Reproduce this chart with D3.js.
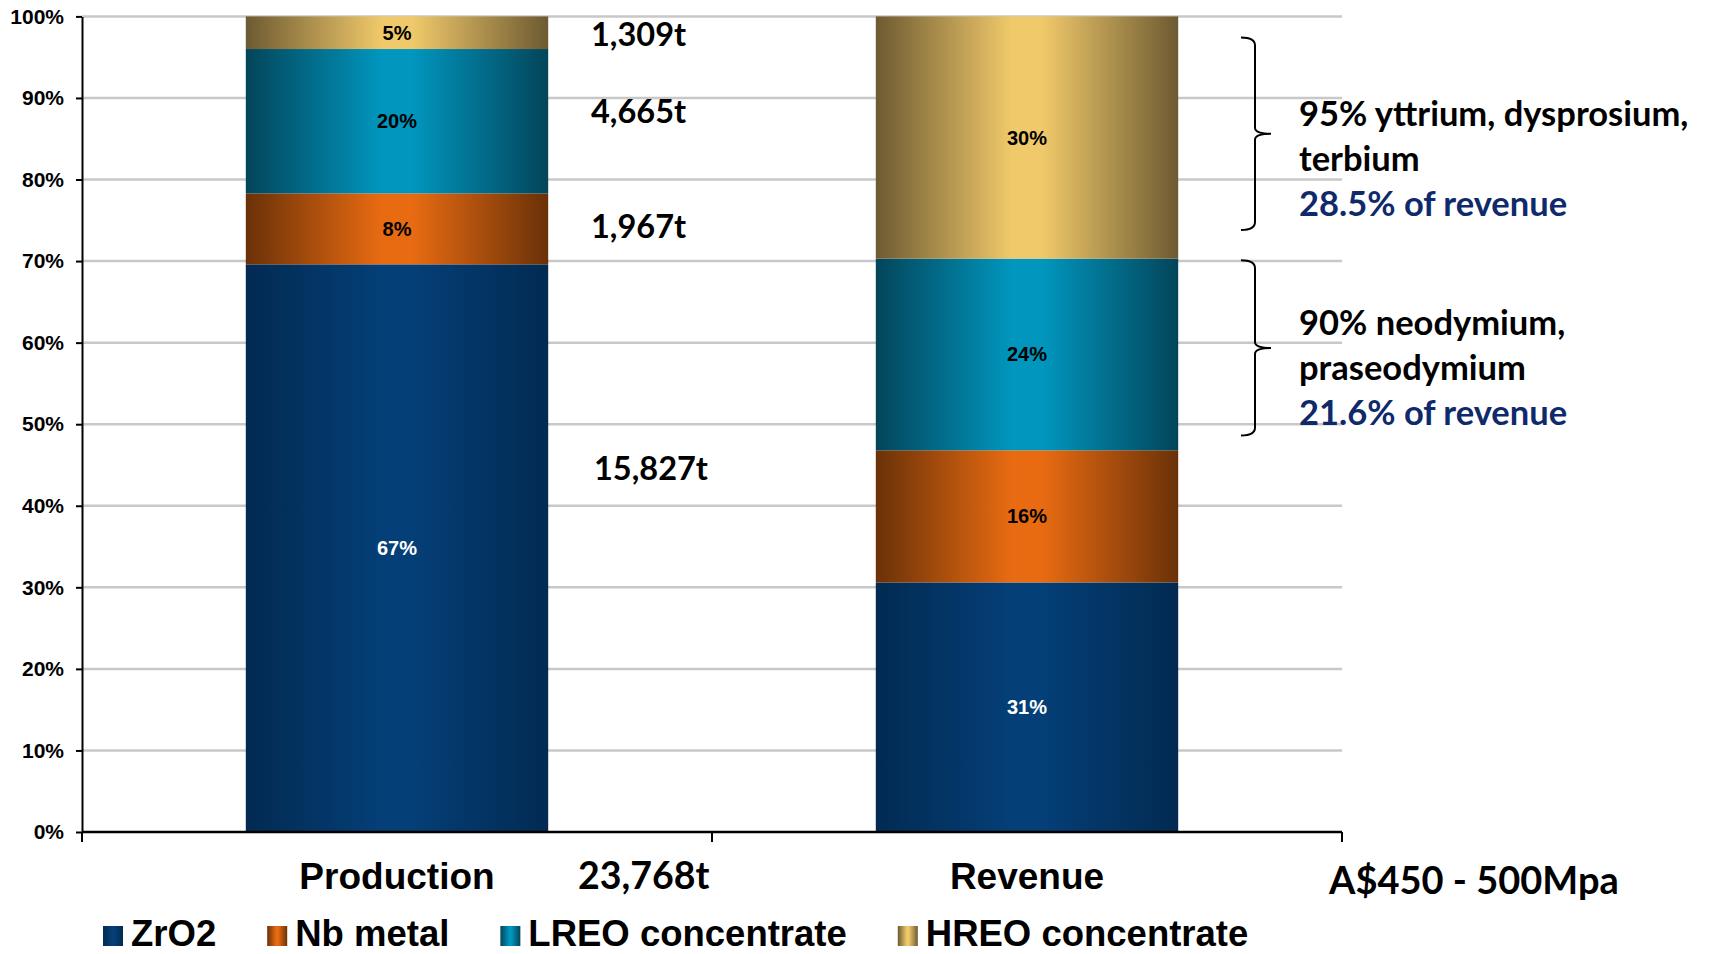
<!DOCTYPE html>
<html>
<head>
<meta charset="utf-8">
<script src="https://cdn.jsdelivr.net/npm/d3@7"></script>
<style>
  html, body { margin: 0; padding: 0; background: #fff; }
  svg { display: block; }
  .arial { font-family: "Liberation Sans", Arial, sans-serif; font-weight: bold; }
  .cal { font-family: Lato, "Open Sans", sans-serif; font-weight: bold; }
</style>
</head>
<body>
<svg id="chart" width="1717" height="954"></svg>
<script>
// chart data (bar heights) and its printed labels
const categories = ['Production', 'Revenue'];
const series = ['ZrO2', 'Nb metal', 'LREO concentrate', 'HREO concentrate'];
const productionShares = [69.6, 8.7, 17.7, 4.0];
const revenueShares = [30.6, 16.2, 23.5, 29.7];
const productionLabels = ['67%', '8%', '20%', '5%'];
const revenueLabels = ['31%', '16%', '24%', '30%'];
const tonnages = ['15,827t', '1,967t', '4,665t', '1,309t'];
const totalProduction = '23,768t';
const revenueRange = 'A$450 - 500Mpa';
const yTicks = [0, 10, 20, 30, 40, 50, 60, 70, 80, 90, 100];

// gradient colours per series: [edge, centre]
const shades = [['#022a52', '#043f77'], ['#6a3108', '#e86b12'], ['#03455a', '#0196be'], ['#6d5a32', '#f0c96a']];
const labelInk = ['#fff', '#000', '#000', '#000'];

const svg = d3.select('#chart');
const plot = {left: 82, right: 1342, top: 16.4, bottom: 832};

const x = d3.scaleBand().domain(categories).range([plot.left, plot.right])
  .paddingInner(0.52).paddingOuter(0.26);
const y = d3.scaleLinear().domain([0, 100]).range([plot.bottom, plot.top]);

const rows = categories.map((c, i) => {
  const vals = i === 0 ? productionShares : revenueShares;
  const labs = i === 0 ? productionLabels : revenueLabels;
  const r = {cat: c, labels: labs};
  series.forEach((s, j) => r[s] = vals[j]);
  return r;
});
const stacked = d3.stack().keys(series)(rows);

// horizontal "cylinder" gradients like the Excel fill
const defs = svg.append('defs');
series.forEach((s, i) => {
  const g = defs.append('linearGradient').attr('id', 'grad' + i)
    .attr('x1', 0).attr('x2', 1).attr('y1', 0).attr('y2', 0);
  g.append('stop').attr('offset', '0%').attr('stop-color', shades[i][0]);
  g.append('stop').attr('offset', '45%').attr('stop-color', shades[i][1]);
  g.append('stop').attr('offset', '55%').attr('stop-color', shades[i][1]);
  g.append('stop').attr('offset', '100%').attr('stop-color', shades[i][0]);
});

// gridlines
svg.append('g').selectAll('line').data(yTicks.filter(d => d > 0)).join('line')
  .attr('x1', plot.left).attr('x2', plot.right)
  .attr('y1', d => y(d)).attr('y2', d => y(d))
  .attr('stroke', '#c8c8c8').attr('stroke-width', 2.5);

// bars
const layer = svg.append('g').selectAll('g').data(stacked).join('g')
  .attr('fill', (d, i) => 'url(#grad' + i + ')');
layer.selectAll('rect').data(d => d).join('rect')
  .attr('x', d => x(d.data.cat))
  .attr('width', x.bandwidth())
  .attr('y', d => y(d[1]))
  .attr('height', d => y(d[0]) - y(d[1]));

// value labels inside segments
stacked.forEach((s, i) => {
  svg.append('g').selectAll('text').data(s).join('text')
    .attr('class', 'arial')
    .attr('x', d => x(d.data.cat) + x.bandwidth() / 2)
    .attr('y', d => y((d[0] + d[1]) / 2))
    .attr('dy', '0.35em')
    .attr('text-anchor', 'middle')
    .attr('font-size', 20)
    .attr('fill', labelInk[i])
    .text(d => d.data.labels[i]);
});

// y axis
const yAxis = svg.append('g').attr('transform', 'translate(' + plot.left + ',0)')
  .call(d3.axisLeft(y).tickValues(yTicks).tickFormat(d => d + '%').tickSize(6).tickSizeOuter(0));
yAxis.select('.domain').attr('stroke', '#000').attr('stroke-width', 2);
yAxis.selectAll('.tick line').attr('stroke', '#000').attr('stroke-width', 2);
yAxis.selectAll('.tick text').attr('class', 'arial').attr('font-size', 21)
  .attr('fill', '#000').attr('x', -18);

// x axis: baseline plus ticks at band boundaries
const bounds = d3.range(categories.length + 1).map(i => plot.left + i * x.step());
const xAxis = svg.append('g');
xAxis.append('line').attr('x1', plot.left).attr('x2', plot.right)
  .attr('y1', plot.bottom).attr('y2', plot.bottom)
  .attr('stroke', '#000').attr('stroke-width', 2.5);
xAxis.selectAll('line.t').data(bounds).join('line').attr('class', 't')
  .attr('x1', d => d).attr('x2', d => d)
  .attr('y1', plot.bottom).attr('y2', plot.bottom + 10)
  .attr('stroke', '#000').attr('stroke-width', 2);
xAxis.selectAll('text').data(categories).join('text')
  .attr('class', 'arial')
  .attr('x', d => x(d) + x.bandwidth() / 2)
  .attr('y', 889)
  .attr('text-anchor', 'middle')
  .attr('font-size', 37)
  .text(d => d);

// tonnage annotations next to the production bar (y in chart %)
const tonnageAt = [44.5, 74.2, 88.3, 97.8];
svg.append('g').selectAll('text').data(tonnages).join('text')
  .attr('class', 'cal')
  .attr('x', (d, i) => i === 0 ? 594 : 591)
  .attr('y', (d, i) => y(tonnageAt[i]))
  .attr('dy', '0.35em')
  .attr('font-size', 32.5)
  .text(d => d);
svg.append('text').attr('class', 'cal').attr('x', 578).attr('y', 889)
  .attr('font-size', 37.5).text(totalProduction);
svg.append('text').attr('class', 'cal').attr('x', 1329).attr('y', 894)
  .attr('font-size', 38).text(revenueRange);

// braces + notes beside the revenue bar
const notes = [
  {from: 97.4, to: 73.8, lines: ['95% yttrium, dysprosium,', 'terbium'], share: '28.5% of revenue', base: 126},
  {from: 70.1, to: 48.6, lines: ['90% neodymium,', 'praseodymium'], share: '21.6% of revenue', base: 335}
];
const bx = 1255;
notes.forEach(n => {
  const t = y(n.from), b = y(n.to), m = (t + b) / 2;
  const p = d3.path();
  p.moveTo(bx - 14, t); p.quadraticCurveTo(bx, t, bx, t + 8);
  p.lineTo(bx, m - 6); p.quadraticCurveTo(bx, m, bx + 16, m);
  p.quadraticCurveTo(bx, m, bx, m + 6);
  p.lineTo(bx, b - 8); p.quadraticCurveTo(bx, b, bx - 14, b);
  svg.append('path').attr('d', p.toString()).attr('fill', 'none')
    .attr('stroke', '#000').attr('stroke-width', 2);
  const txt = svg.append('text').attr('class', 'cal').attr('font-size', 34.5);
  n.lines.concat([n.share]).forEach((l, i) => {
    txt.append('tspan').attr('x', 1299).attr('y', n.base + i * 45)
      .attr('fill', i === n.lines.length ? '#0f2a6b' : '#000').text(l);
  });
});

// legend
const legend = svg.append('g').attr('transform', 'translate(103,0)');
let lx = 0;
series.forEach((s, i) => {
  const g = legend.append('g').attr('transform', 'translate(' + lx + ',0)');
  g.append('rect').attr('x', 0).attr('y', 926).attr('width', 20).attr('height', 20)
    .attr('fill', 'url(#grad' + i + ')');
  const t = g.append('text').attr('class', 'arial').attr('x', 28).attr('y', 946)
    .attr('font-size', 36.5).text(s);
  lx += 28 + t.node().getComputedTextLength() + 51;
});
</script>
</body>
</html>
